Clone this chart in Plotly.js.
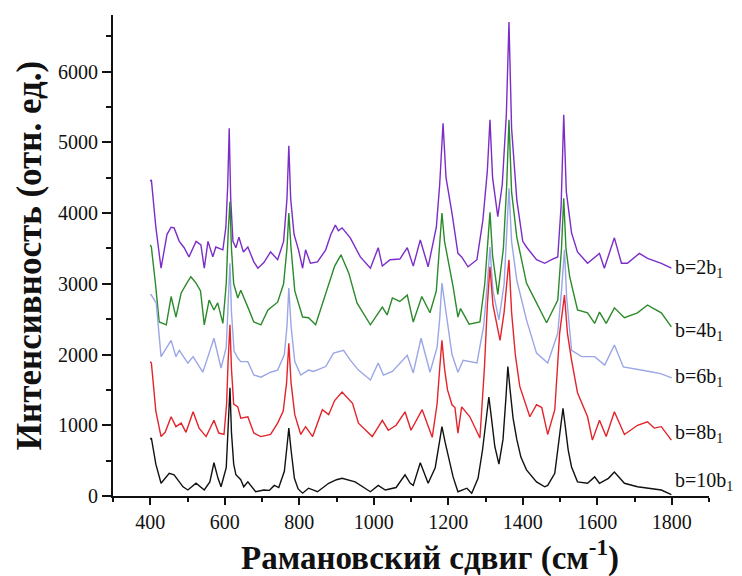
<!DOCTYPE html>
<html>
<head>
<meta charset="utf-8">
<script src="https://cdn.plot.ly/plotly-3.0.1.min.js"></script>
<style>html,body{margin:0;padding:0;background:#fff;}#chart{width:742px;height:576px;}</style>
</head>
<body>
<div id="chart"></div>
<script>
// [Raman shift (cm^-1), intensity (a.u.)] for each series
const s2b = [[400,4450],[403,4470],[415,3800],[429,3220],[445,3700],[456,3800],[464,3790],[478,3600],[491,3510],[504,3380],[523,3600],[536,3550],[545,3220],[555,3600],[568,3380],[576,3520],[595,3480],[603,3800],[608,4400],[612,5200],[616,4200],[622,3600],[630,3510],[638,3660],[650,3450],[662,3520],[678,3310],[689,3220],[705,3300],[723,3450],[742,3340],[758,3600],[767,4200],[772,4950],[777,4200],[786,3700],[798,3480],[809,3220],[817,3480],[830,3290],[849,3310],[871,3480],[885,3700],[897,3830],[905,3750],[915,3790],[937,3650],[964,3380],[991,3220],[1012,3510],[1023,3250],[1044,3340],[1070,3350],[1090,3510],[1106,3250],[1125,3620],[1146,3240],[1168,3800],[1177,4400],[1186,5270],[1194,4500],[1210,4000],[1226,3430],[1236,3380],[1253,3240],[1277,3340],[1293,3900],[1305,4600],[1312,5320],[1319,4500],[1333,3950],[1345,4400],[1356,5400],[1363,6700],[1370,5200],[1384,4190],[1400,3600],[1410,3520],[1437,3340],[1459,3290],[1480,3350],[1494,3380],[1503,4100],[1510,5390],[1517,4300],[1531,3720],[1547,3450],[1574,3290],[1606,3430],[1619,3220],[1646,3650],[1665,3290],[1681,3290],[1713,3430],[1735,3360],[1772,3290],[1799,3220]];

const s4b = [[400,3550],[403,3520],[414,3000],[424,2460],[443,2420],[456,2820],[469,2530],[483,2870],[497,3000],[509,3100],[523,3010],[535,2900],[545,2420],[558,2770],[571,2630],[581,2730],[595,2440],[604,3000],[609,3700],[614,4160],[618,3500],[624,3000],[635,2800],[643,2910],[662,2670],[678,2460],[697,2420],[716,2630],[742,2740],[758,3000],[767,3500],[772,4000],[778,3500],[788,2900],[809,2530],[825,2520],[844,2420],[871,2870],[895,3250],[912,3410],[933,3150],[955,2730],[991,2420],[1023,2670],[1036,2560],[1050,2800],[1070,2750],[1090,2840],[1106,2460],[1129,2820],[1151,2590],[1168,2900],[1177,3500],[1183,4000],[1190,3600],[1205,3200],[1213,2960],[1226,2530],[1233,2650],[1256,2430],[1285,2460],[1298,3000],[1306,3600],[1312,4010],[1319,3400],[1333,2850],[1348,3500],[1357,4400],[1363,5320],[1370,4300],[1384,3660],[1410,3010],[1437,2730],[1464,2450],[1494,2770],[1504,3500],[1510,4210],[1516,3500],[1526,3100],[1547,2630],[1574,2590],[1593,2440],[1606,2600],[1624,2440],[1646,2660],[1673,2520],[1708,2590],[1735,2700],[1748,2660],[1772,2590],[1799,2390]];

const s6b = [[400,2850],[403,2840],[416,2730],[429,1970],[456,2200],[469,1970],[478,2060],[501,1880],[515,1970],[541,1750],[555,1970],[571,2230],[590,1810],[604,2100],[609,2700],[614,3290],[618,2600],[625,2050],[635,1950],[643,1900],[662,1900],[678,1710],[697,1680],[723,1750],[742,1780],[760,2000],[767,2400],[772,2940],[778,2400],[788,1900],[804,1710],[825,1780],[838,1760],[871,1830],[892,2020],[919,2060],[937,1920],[959,1780],[991,1640],[1012,1880],[1026,1710],[1050,1760],[1090,1990],[1106,1740],[1127,2230],[1151,1750],[1170,2100],[1177,2500],[1183,3010],[1196,2530],[1210,2000],[1226,1750],[1240,1920],[1277,1880],[1295,2400],[1305,3000],[1312,3520],[1320,2900],[1336,2490],[1350,3000],[1357,3700],[1363,4350],[1370,3600],[1384,3050],[1410,2490],[1437,2020],[1467,1880],[1494,2300],[1504,2900],[1512,3480],[1518,2800],[1531,2060],[1558,1970],[1593,1970],[1620,1850],[1646,2135],[1670,1825],[1700,1800],[1740,1760],[1770,1730],[1800,1670]];

const s8b = [[400,1900],[403,1880],[415,1200],[429,840],[440,900],[456,1120],[469,980],[483,1030],[496,900],[515,1190],[531,960],[550,840],[571,1070],[584,890],[598,870],[605,1300],[609,1900],[614,2420],[618,1800],[624,1300],[635,1260],[643,1100],[662,1120],[678,890],[697,840],[723,870],[742,1030],[757,1200],[766,1600],[772,2160],[778,1600],[788,1150],[804,870],[817,980],[836,840],[862,1220],[879,1150],[895,1350],[915,1470],[943,1310],[959,1030],[996,840],[1023,1070],[1039,930],[1060,1000],[1084,1190],[1100,930],[1130,1220],[1157,830],[1170,1300],[1177,1800],[1183,2200],[1190,1800],[1198,1500],[1210,1290],[1218,1250],[1226,890],[1236,1260],[1258,1120],[1285,820],[1297,1800],[1305,2700],[1312,3240],[1320,2700],[1339,2200],[1350,2600],[1357,3000],[1363,3340],[1370,2600],[1380,2000],[1392,1550],[1419,1120],[1437,1290],[1451,1250],[1467,870],[1486,1220],[1499,2300],[1512,2840],[1520,2300],[1531,1920],[1547,1460],[1574,1120],[1587,790],[1606,1070],[1624,840],[1646,1190],[1673,870],[1708,1000],[1735,1050],[1753,960],[1772,980],[1799,790]];

const s10b = [[400,800],[403,820],[415,450],[429,180],[451,320],[464,300],[488,130],[501,85],[523,180],[545,85],[560,200],[571,470],[582,250],[590,130],[604,400],[609,1000],[614,1530],[618,900],[624,450],[630,300],[643,230],[651,130],[662,200],[683,60],[705,85],[720,80],[733,150],[745,120],[760,350],[767,700],[772,960],[778,650],[787,250],[797,100],[809,40],[825,110],[849,60],[879,180],[900,230],[915,250],[950,200],[991,60],[1012,150],[1031,85],[1060,120],[1084,300],[1098,180],[1106,150],[1125,470],[1146,180],[1165,400],[1176,750],[1183,980],[1192,750],[1200,550],[1213,270],[1226,60],[1250,110],[1263,40],[1280,250],[1292,650],[1302,1100],[1309,1400],[1316,1100],[1325,700],[1336,450],[1347,800],[1355,1400],[1360,1830],[1366,1500],[1374,1100],[1384,800],[1395,550],[1410,370],[1437,200],[1459,130],[1467,150],[1486,320],[1498,800],[1508,1240],[1515,950],[1522,650],[1531,410],[1547,200],[1574,180],[1593,270],[1606,180],[1630,250],[1646,340],[1673,180],[1708,130],[1745,110],[1772,85],[1799,20]];

const seriesNames = ["b=2b<sub>1</sub>","b=4b<sub>1</sub>","b=6b<sub>1</sub>","b=8b<sub>1</sub>","b=10b<sub>1</sub>"];
const labelY = [3220,2330,1670,890,210];
const xTickVals = [400,600,800,1000,1200,1400,1600,1800];
const yTickVals = [0,1000,2000,3000,4000,5000,6000];
const xTitle = '<b>Рамановский сдвиг (см<sup>-1</sup>)</b>';
const yTitle = '<b>Интенсивность (отн. ед.)</b>';

const series = [s2b,s4b,s6b,s8b,s10b];
const colors = ["#7b2cc9","#2b8a2b","#9ba6e6","#e3242b","#111111"];

const FONT = 'Liberation Serif, Times New Roman, serif';

const traces = series.map((s,i)=>({
  x:s.map(p=>p[0]), y:s.map(p=>p[1]), type:'scatter', mode:'lines',
  line:{color:colors[i], width:1.4},
  name:seriesNames[i], hoverinfo:'skip'
}));

const annotations = seriesNames.map((t,i)=>({
  x:1804, y:labelY[i], xref:'x', yref:'y', text:t, showarrow:false,
  xanchor:'left', yanchor:'middle', font:{family:FONT,size:20,color:'#111'}
}));
annotations.push({
  x:0.532, y:-0.123, xref:'paper', yref:'paper', text:xTitle, showarrow:false,
  xanchor:'center', yanchor:'middle', font:{family:FONT,size:33,color:'#111'}
});

const layout = {
  width:742, height:576,
  margin:{l:113, r:33, t:15, b:80},
  paper_bgcolor:'#fff', plot_bgcolor:'#fff',
  showlegend:false,
  font:{family:FONT, color:'#111'},
  xaxis:{
    range:[300,1900], tickvals:xTickVals, ticktext:xTickVals.map(String),
    showgrid:false, zeroline:false, showline:true, linecolor:'#111', linewidth:2,
    ticks:'outside', ticklen:7, tickwidth:2, tickcolor:'#111',
    minor:{dtick:100, tick0:0, ticks:'outside', ticklen:4, tickwidth:2, tickcolor:'#111', showgrid:false},
    tickfont:{family:FONT, size:20, color:'#111'}
  },
  yaxis:{
    range:[0,6800], tickvals:yTickVals, ticktext:yTickVals.map(String),
    showgrid:false, zeroline:false, showline:true, linecolor:'#111', linewidth:2,
    ticks:'outside', ticklen:9, tickwidth:2, tickcolor:'#111',
    minor:{dtick:500, tick0:0, ticks:'outside', ticklen:5, tickwidth:2, tickcolor:'#111', showgrid:false},
    tickfont:{family:FONT, size:20, color:'#111'},
    title:{text:yTitle, font:{family:FONT, size:35, color:'#111'}, standoff:6}
  },
  annotations:annotations
};

Plotly.newPlot('chart', traces, layout, {staticPlot:true, displayModeBar:false});
</script>
</body>
</html>
